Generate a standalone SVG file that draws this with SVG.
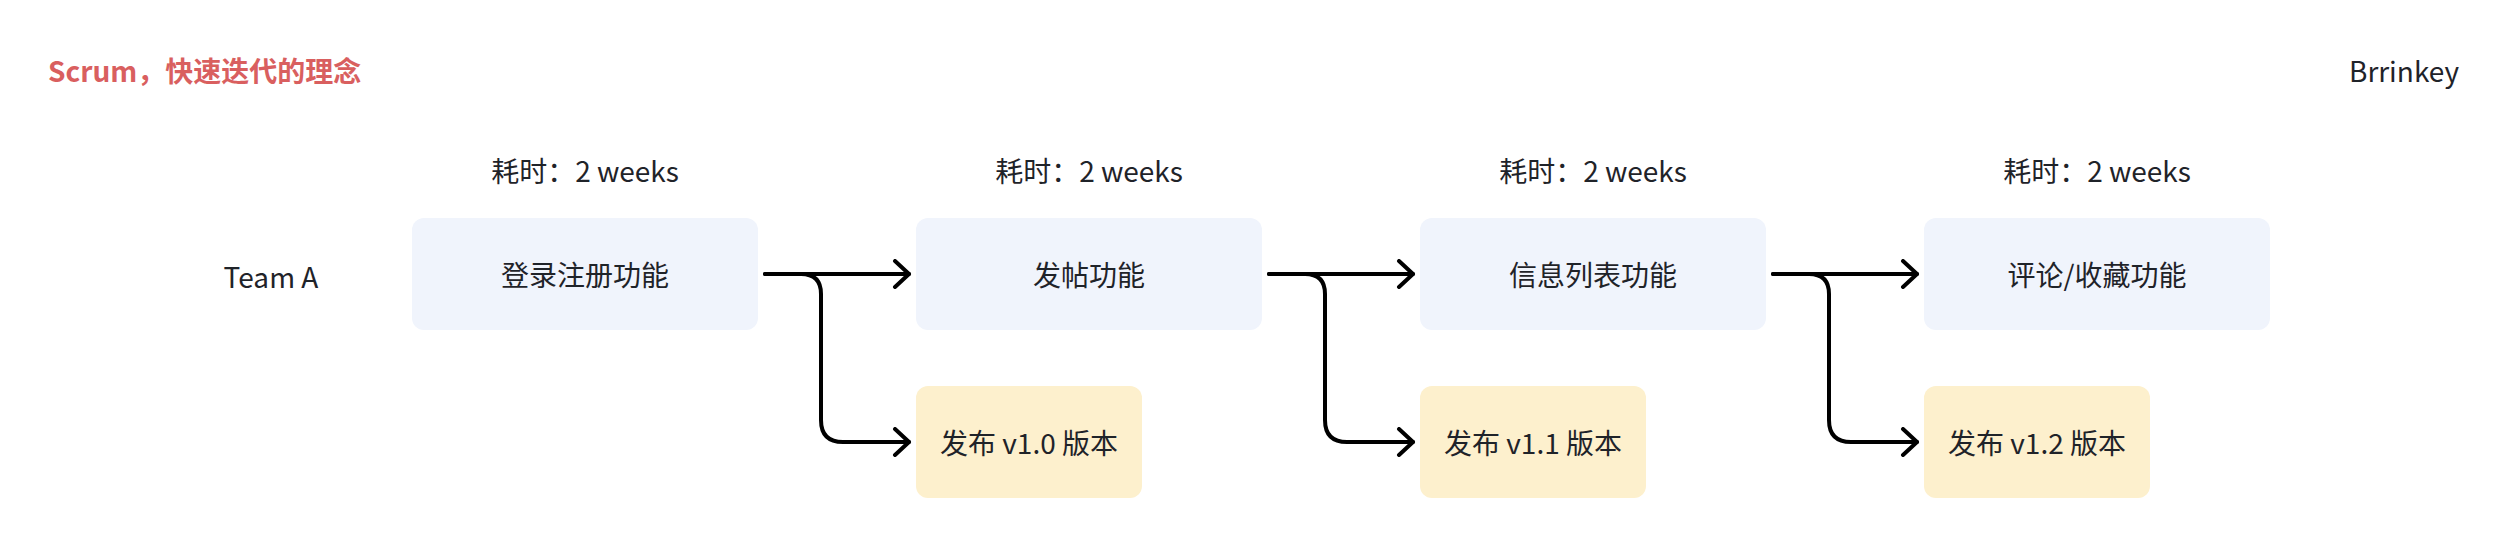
<svg xmlns="http://www.w3.org/2000/svg" width="2508" height="548" viewBox="0 0 2508 548">
  <style>
    text { font-family: "Noto Sans CJK SC", "Noto Sans", sans-serif; fill: #1f2329; font-size: 28px; }
    .title { font-weight: bold; fill: #d95f5f; }
    .c { text-anchor: middle; dominant-baseline: central; }
    .task { fill: #f0f4fc; }
    .rel { fill: #fdf0cd; }
    .conn { fill: none; stroke: #000; stroke-width: 4; stroke-linecap: round; stroke-linejoin: round; }
  </style>
  <defs>
    <marker id="arr" viewBox="0 0 20 30" refX="17" refY="15" markerWidth="20" markerHeight="30" markerUnits="userSpaceOnUse" orient="auto">
      <path d="M3,2 L17,15 L3,28" fill="none" stroke="#000" stroke-width="4" stroke-linecap="round" stroke-linejoin="round"/>
    </marker>
  </defs>
  <rect width="2508" height="548" fill="#fff"/>

  <text id="title" class="title" x="48" y="82">Scrum，快速迭代的理念</text>
  <text id="author" x="2349" y="82">Brrinkey</text>
  <text id="team" class="c" x="271" y="276">Team A</text>

  <g id="dur1"><text class="c" x="585" y="170">耗时：2 weeks</text></g>
  <g id="dur2"><text class="c" x="1089" y="170">耗时：2 weeks</text></g>
  <g id="dur3"><text class="c" x="1593" y="170">耗时：2 weeks</text></g>
  <g id="dur4"><text class="c" x="2097" y="170">耗时：2 weeks</text></g>

  <g id="task1"><rect class="task" x="412" y="218" width="346" height="112" rx="12"/><text class="c" x="585" y="274">登录注册功能</text></g>
  <g id="task2"><rect class="task" x="916" y="218" width="346" height="112" rx="12"/><text class="c" x="1089" y="274">发帖功能</text></g>
  <g id="task3"><rect class="task" x="1420" y="218" width="346" height="112" rx="12"/><text class="c" x="1593" y="274">信息列表功能</text></g>
  <g id="task4"><rect class="task" x="1924" y="218" width="346" height="112" rx="12"/><text class="c" x="2097" y="274">评论/收藏功能</text></g>

  <g id="rel1"><rect class="rel" x="916" y="386" width="226" height="112" rx="12"/><text class="c" x="1029" y="442">发布 v1.0 版本</text></g>
  <g id="rel2"><rect class="rel" x="1420" y="386" width="226" height="112" rx="12"/><text class="c" x="1533" y="442">发布 v1.1 版本</text></g>
  <g id="rel3"><rect class="rel" x="1924" y="386" width="226" height="112" rx="12"/><text class="c" x="2037" y="442">发布 v1.2 版本</text></g>

  <g id="connectors">
    <path class="conn" d="M765,274 H909" marker-end="url(#arr)"/>
    <path class="conn" d="M765,274 H801 Q821,274 821,294 V420 Q821,442 843,442 H909" marker-end="url(#arr)"/>
    <path class="conn" d="M1269,274 H1413" marker-end="url(#arr)"/>
    <path class="conn" d="M1269,274 H1305 Q1325,274 1325,294 V420 Q1325,442 1347,442 H1413" marker-end="url(#arr)"/>
    <path class="conn" d="M1773,274 H1917" marker-end="url(#arr)"/>
    <path class="conn" d="M1773,274 H1809 Q1829,274 1829,294 V420 Q1829,442 1851,442 H1917" marker-end="url(#arr)"/>
  </g>
</svg>
